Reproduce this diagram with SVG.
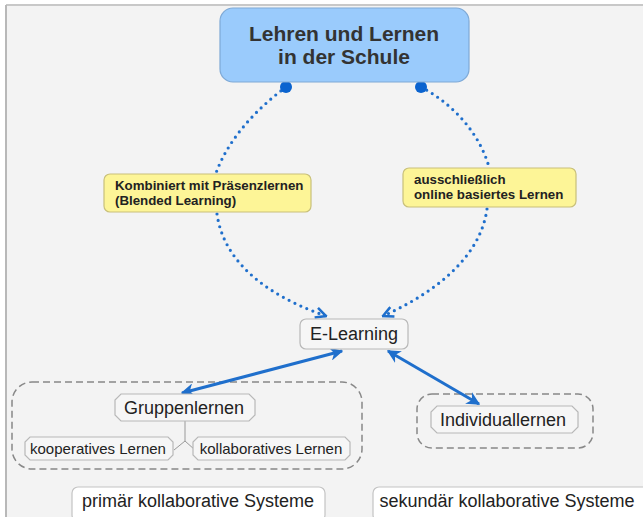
<svg xmlns="http://www.w3.org/2000/svg" width="643" height="517" viewBox="0 0 643 517">
<style>
text{font-family:"Liberation Sans",Arial,sans-serif;fill:#222}
.title{font-size:21px;font-weight:bold;fill:#333}
.note{font-size:13.3px;font-weight:bold}
.lbl{font-size:18px}
.small{font-size:15px}
.dot{fill:none;stroke:#1f6fcc;stroke-width:3.2;stroke-dasharray:0 6.5;stroke-linecap:round}
.solid{fill:none;stroke:#1f6fcc;stroke-width:3}
.grp{fill:none;stroke:#888;stroke-width:1.5;stroke-dasharray:7 4}
.node{fill:#f6f6f6;stroke:#b8b8b8;stroke-width:1.2}
.yel{fill:#fdf597;stroke:#c9c07a;stroke-width:1.2}
</style>
<defs>
<marker id="ao" viewBox="0 0 10 10" refX="9" refY="5" markerWidth="4" markerHeight="4" orient="auto"><path d="M1,1 L9,5 L1,9" fill="none" stroke="#1f6fcc" stroke-width="2"/></marker>
<marker id="af" viewBox="0 0 10 10" refX="9" refY="5" markerWidth="4.5" markerHeight="4.5" orient="auto-start-reverse"><path d="M0,0 L10,5 L0,10 L3,5 z" fill="#1f6fcc"/></marker>
</defs>
<rect x="0" y="0" width="643" height="517" fill="#fff"/>
<rect x="6" y="5" width="640" height="520" fill="#f3f3f3"/>
<line x1="6" y1="5" x2="643" y2="5" stroke="#c8c8c8" stroke-width="2"/>
<line x1="6" y1="5" x2="6" y2="517" stroke="#b8b8b8" stroke-width="2"/>

<g id="groups">
<rect class="grp" x="12" y="382" width="350" height="87" rx="20"/>
<rect class="grp" x="417" y="394" width="176" height="54" rx="15"/>
</g>

<g id="connectors">
<path class="dot" d="M286,87 C255,110 228,140 216,173"/>
<path class="dot" d="M217,214 C225,270 280,300 326,316" marker-end="url(#ao)"/>
<path class="dot" d="M421,87 C455,105 480,135 489,167"/>
<path class="dot" d="M487,209 C480,260 430,295 383,316" marker-end="url(#ao)"/>
<path class="solid" d="M182,393 L342,351" marker-start="url(#af)" marker-end="url(#af)"/>
<path class="solid" d="M479,404 L388,351" marker-start="url(#af)" marker-end="url(#af)"/>
<path d="M185,421 L185,441 L174,450 M185,441 L195,450" fill="none" stroke="#999" stroke-width="1"/>
<circle cx="286" cy="87" r="6" fill="#0a63cf"/>
<circle cx="421" cy="87" r="6" fill="#0a63cf"/>
</g>

<g id="n-top">
<rect x="220" y="8" width="249" height="74" rx="13" fill="#9acbfc" stroke="#7ea9d6" stroke-width="1.2"/>
<text class="title" x="344" y="41" text-anchor="middle">Lehren und Lernen</text>
<text class="title" x="344" y="64" text-anchor="middle">in der Schule</text>
</g>

<g id="n-blended">
<rect class="yel" x="104" y="174" width="207" height="38" rx="6"/>
<text class="note" x="115" y="190">Kombiniert mit Präsenzlernen</text>
<text class="note" x="115" y="205">(Blended Learning)</text>
</g>

<g id="n-online">
<rect class="yel" x="403" y="168" width="173" height="39" rx="6"/>
<text class="note" x="414" y="184">ausschließlich</text>
<text class="note" x="414" y="199">online basiertes Lernen</text>
</g>

<g id="n-elearning">
<rect class="node" x="300" y="319" width="108" height="30" rx="6"/>
<text class="lbl" x="354" y="340" text-anchor="middle">E-Learning</text>
</g>

<g id="n-gruppen">
<path class="node" d="M121,394 L249,394 L255,400 L255,415 L249,421 L121,421 L115,415 L115,400 Z"/>
<text class="lbl" x="184" y="414" text-anchor="middle">Gruppenlernen</text>
</g>

<g id="n-koop">
<path class="node" d="M30,437 L168,437 L173,442 L173,455 L168,460 L30,460 L25,455 L25,442 Z"/>
<text class="small" x="98" y="454" text-anchor="middle">kooperatives Lernen</text>
</g>

<g id="n-kollab">
<path class="node" d="M198,437 L345,437 L350,442 L350,455 L345,460 L198,460 L193,455 L193,442 Z"/>
<text class="small" x="271" y="454" text-anchor="middle">kollaboratives Lernen</text>
</g>

<g id="n-indiv">
<path class="node" d="M437,406 L572,406 L578,412 L578,427 L572,433 L437,433 L431,427 L431,412 Z"/>
<text class="lbl" x="503" y="426" text-anchor="middle">Individuallernen</text>
</g>

<g id="n-primaer">
<rect x="72" y="487" width="253" height="34" rx="6" fill="#fff" stroke="#c4c4c4" stroke-width="1.2"/>
<text class="lbl" x="198" y="507" text-anchor="middle">primär kollaborative Systeme</text>
</g>

<g id="n-sekundaer">
<rect x="373" y="487" width="280" height="34" rx="6" fill="#fff" stroke="#c4c4c4" stroke-width="1.2"/>
<text class="lbl" x="507" y="507" text-anchor="middle">sekundär kollaborative Systeme</text>
</g>
</svg>
